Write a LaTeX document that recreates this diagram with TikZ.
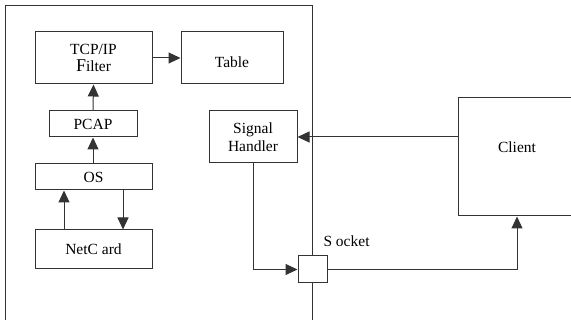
\documentclass[tikz,border=0pt]{standalone}
\usepackage{fontspec}
\setmainfont{Liberation Serif}
\usetikzlibrary{arrows.meta}
\begin{document}
\begin{tikzpicture}[x=1pt,y=-1pt,
  line width=1pt,
  wire/.style={draw=black!80, line width=1pt},
  box/.style={draw=black!80, line width=1pt, fill=white, rectangle, inner sep=0pt,
    align=center, font=\fontsize{15.5}{17.5}\selectfont},
  arr/.style={wire, -{Triangle[length=12pt,width=11pt]}},
  lbl/.style={font=\fontsize{15.5}{17.5}\selectfont, inner sep=0pt}]
\clip (0,0) rectangle (571,320);
% host frame, open at the bottom
\draw[wire] (5,320) -- (5,6) -- (312,6) -- (312,320);
% boxes inside the host
\node[box, minimum width=117pt, minimum height=52pt] (filter) at (93.5,58)
  {TCP/IP\\{\fontsize{18}{17.5}\selectfont F}ilter};
\node[box, minimum width=102pt, minimum height=52pt, text height=20pt, text depth=0pt] (table) at (232,58) {Table};
\node[box, minimum width=88pt, minimum height=26pt] (pcap) at (93,124) {PCAP};
\node[box, minimum width=117pt, minimum height=26pt] (os) at (93.5,177) {OS};
\node[box, minimum width=117pt, minimum height=39pt] (netcard) at (93.5,249.5) {NetC ard};
\node[box, minimum width=88pt, minimum height=52pt] (sh) at (253,137) {Signal\\Handler};
% socket on the host boundary
\node[box, minimum width=29pt, minimum height=27pt] (socket) at (312.5,269.5) {};
\node[lbl, anchor=base west] (socketlbl) at (323,247) {S ocket};
% remote client
\node[box, minimum width=118pt, minimum height=118pt, text depth=20pt] (client) at (517,157) {Client};
% connectors
\draw[arr] (filter.east) -- (table.west);
\draw[arr] (pcap.north) -- (filter.south);
\draw[arr] (os.north -| pcap.north) -- (pcap.south);
\draw[arr] (netcard.north -| 64,0) -- (os.south -| 64,0);
\draw[arr] (os.south -| 123,0) -- (netcard.north -| 123,0);
\draw[arr] (sh.east -| client.west) -- (sh.east);
\draw[arr] (sh.south) |- (socket.west);
\draw[arr] (socket.east) -| (client.south);
\end{tikzpicture}
\end{document}
